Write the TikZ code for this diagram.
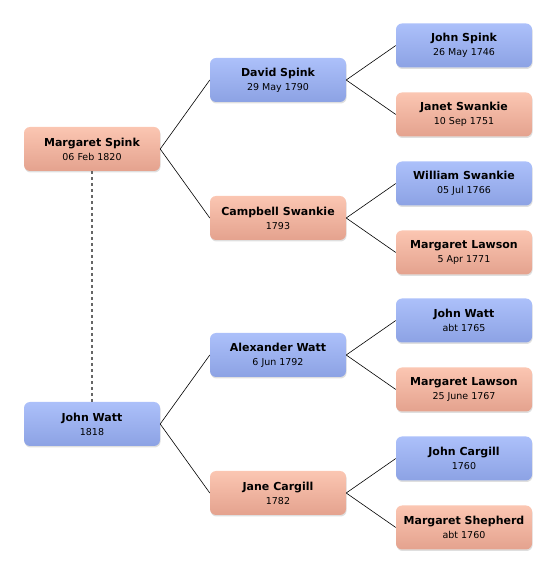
\documentclass[tikz,border=0pt]{standalone}
\usepackage{fontspec}
\setmainfont{DejaVu Sans}
\usepackage{tikz}
\usetikzlibrary{shadows,positioning}
\definecolor{bluetop}{RGB}{172,192,250}
\definecolor{bluebot}{RGB}{140,162,228}
\definecolor{saltop}{RGB}{251,198,178}
\definecolor{salbot}{RGB}{228,162,142}
\newcommand{\who}[2]{{\bfseries #1}\\{\fontsize{9.5}{13.5}\selectfont #2}}
\tikzset{
  ped/.style={grow'=right, level distance=186pt, parent anchor=east, child anchor=west, edge from parent/.style={draw, line width=0.6pt}},
  person/.style={rounded corners=6pt, minimum width=136pt, minimum height=44pt, inner sep=2pt, align=center, font=\fontsize{11}{14}\selectfont, drop shadow={opacity=0.25, shadow xshift=0.6pt, shadow yshift=-1.5pt}},
  male/.style={person, top color=bluetop, bottom color=bluebot},
  female/.style={person, top color=saltop, bottom color=salbot},
  link/.style={draw=black!60, line width=1.3pt, dash pattern=on 3pt off 3pt}
}
\begin{document}
\begin{tikzpicture}[ped, level 1/.style={sibling distance=138pt}, level 2/.style={sibling distance=69pt}]
\useasboundingbox (0,0) rectangle (556pt,574pt);
\node[female] (ms) at (92pt,425pt) {\who{Margaret Spink}{06 Feb 1820}}
  child {node[male] (ds) {\who{David Spink}{29 May 1790}}
    child {node[male] (js) {\who{John Spink}{26 May 1746}}}
    child {node[female] (jsw) {\who{Janet Swankie}{10 Sep 1751}}}}
  child {node[female] (cs) {\who{Campbell Swankie}{1793}}
    child {node[male] (wsw) {\who{William Swankie}{05 Jul 1766}}}
    child {node[female] (mla) {\who{Margaret Lawson}{5 Apr 1771}}}};
\node[male] (jw) at (92pt,150pt) {\who{John Watt}{1818}}
  child {node[male] (aw) {\who{Alexander Watt}{6 Jun 1792}}
    child {node[male] (jwt) {\who{John Watt}{abt 1765}}}
    child {node[female] (mlb) {\who{Margaret Lawson}{25 June 1767}}}}
  child {node[female] (jc) {\who{Jane Cargill}{1782}}
    child {node[male] (jcg) {\who{John Cargill}{1760}}}
    child {node[female] (msh) {\who{Margaret Shepherd}{abt 1760}}}};
% marriage link
\draw[link] (ms.south) -- (jw.north);
\end{tikzpicture}
\end{document}
